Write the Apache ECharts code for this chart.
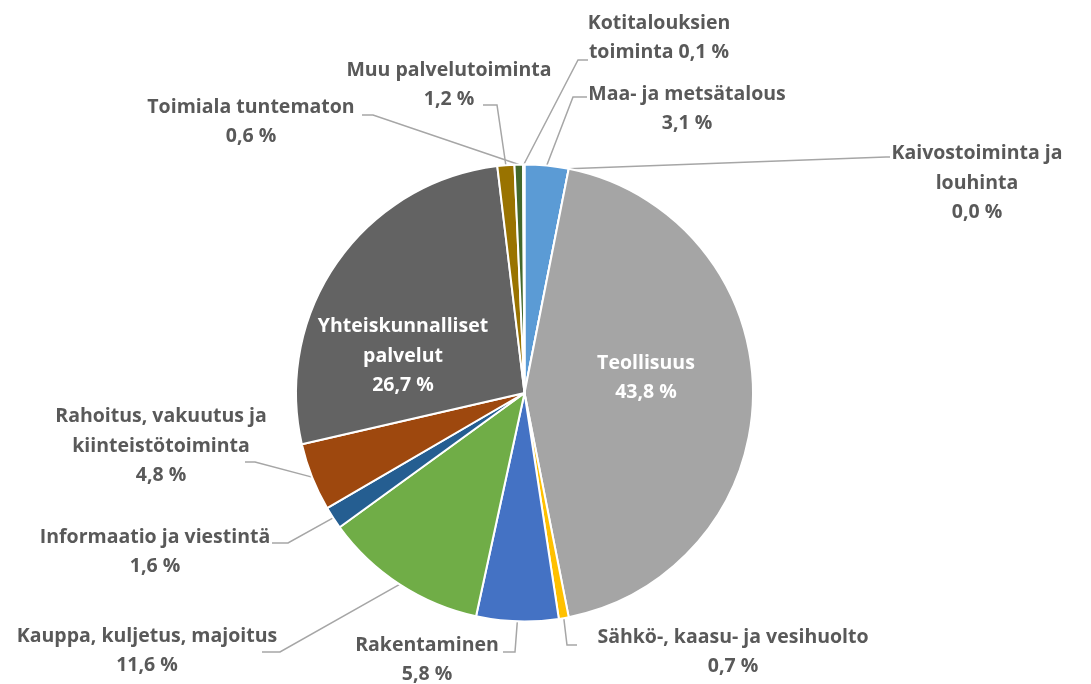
<!DOCTYPE html>
<html style="height: 100%">
<head>
<meta charset="utf-8">
<script src="https://cdn.jsdelivr.net/npm/echarts@6.0.0/dist/echarts.min.js"></script>
</head>
<body style="height: 100%; margin: 0; background: #fff">
<div id="toimialat" style="width: 1091px; height: 684px"></div>
<script type="text/javascript">
// toimialat (osuus %)
var names = ['Maa- ja metsätalous', 'Kaivostoiminta ja\nlouhinta', 'Teollisuus', 'Sähkö-, kaasu- ja vesihuolto',
  'Rakentaminen', 'Kauppa, kuljetus, majoitus', 'Informaatio ja viestintä', 'Rahoitus, vakuutus ja\nkiinteistötoiminta',
  'Yhteiskunnalliset\npalvelut', 'Muu palvelutoiminta', 'Toimiala tuntematon', 'Kotitalouksien\ntoiminta'];
var values = [3.1, 0.0, 43.8, 0.7, 5.8, 11.6, 1.6, 4.8, 26.7, 1.2, 0.6, 0.1];
var colors = ['#5B9BD5', '#ED7D31', '#A5A5A5', '#FFC000', '#4472C4', '#70AD47',
  '#255E91', '#9E480E', '#636363', '#997300', '#43682B', '#264478'];
var insideIdx = [2, 8];      // label inside the slice
var sameLineIdx = [11];      // % on the same line as the name

// label centres + leader line elbows (layout only)
var labelPos = [[687, 109], [977, 183], [646, 378], [733, 652], [427, 660], [147, 651],
  [155, 552], [161, 446], [403, 356], [449, 85], [251, 122], [659, 38]];
var leader = [[573, 97, 587, 97], [886, 157, 890, 157], null, [567, 645, 577, 645],
  [515, 652, 503, 652], [280, 652, 262, 652], [288, 543, 272, 543], [255, 462, 245, 462],
  null, [497, 105, 483, 105], [373, 115, 362, 115], [578, 60, 588, 60]];

var cx = 524.5, cy = 393, R = 228.5;

var data = [];
for (var i = 0; i < names.length; i++) {
  var item = { name: names[i], value: values[i], itemStyle: { color: colors[i] } };
  if (insideIdx.indexOf(i) >= 0) {
    item.label = { position: 'inside', color: '#ffffff' };
    item.labelLine = { show: false };
  }
  data.push(item);
}

var myChart = echarts.init(document.getElementById('toimialat'));
var option = {
  animation: false,
  series: [{
    type: 'pie',
    center: [cx, cy],
    radius: R,
    startAngle: 90,
    clockwise: true,
    avoidLabelOverlap: false,
    emphasis: { disabled: true },
    itemStyle: { borderColor: '#ffffff', borderWidth: 2 },
    label: {
      show: true,
      position: 'outside',
      color: '#595959',
      fontFamily: 'Open Sans',
      fontWeight: 'bold',
      fontSize: 19.5,
      lineHeight: 29.5,
      align: 'center',
      formatter: function (p) {
        var pct = p.value.toFixed(1).replace('.', ',') + ' %';
        return p.name + (sameLineIdx.indexOf(p.dataIndex) >= 0 ? ' ' : '\n') + pct;
      }
    },
    labelLine: { show: true, length: 10, length2: 10, lineStyle: { color: '#A6A6A6', width: 1.5 } },
    labelLayout: function (p) {
      var i = p.dataIndex;
      var res = { x: labelPos[i][0], y: labelPos[i][1], align: 'center', verticalAlign: 'middle' };
      var l = leader[i];
      if (l) {
        var start;
        if (p.labelLinePoints && p.labelLinePoints[0]) {
          start = p.labelLinePoints[0];
        } else {
          var before = 0, total = 0;
          for (var k = 0; k < values.length; k++) { total += values[k]; if (k < i) before += values[k]; }
          var a = (before + values[i] / 2) / total * 2 * Math.PI;
          start = [cx + R * Math.sin(a), cy - R * Math.cos(a)];
        }
        res.labelLinePoints = [start, [l[0], l[1]], [l[2], l[3]]];
      }
      return res;
    },
    data: data
  }]
};
myChart.setOption(option);
</script>
</body>
</html>
